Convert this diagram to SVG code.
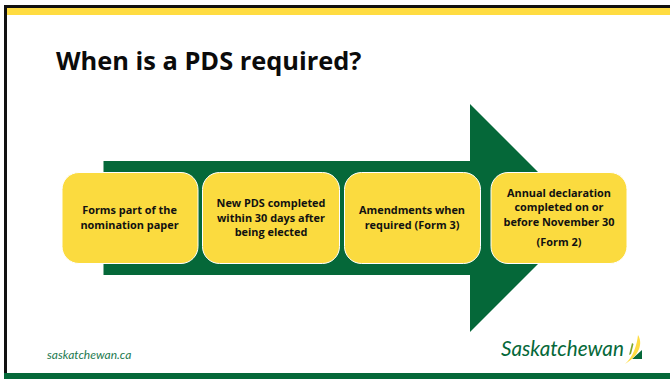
<svg xmlns="http://www.w3.org/2000/svg" width="670" height="379" viewBox="0 0 670 379">
<style>
.t{font-family:"Open Sans","Lato","Liberation Sans",sans-serif;font-weight:700;font-size:10.900px;fill:#111;text-anchor:middle}
.b{fill:#fbdb3f;stroke:#fff;stroke-width:1}
</style>
<rect width="670" height="379" fill="#fff"/>
<g id="frame">
<rect x="4" y="5" width="666" height="3.5" fill="#111"/>
<rect x="4" y="5" width="3" height="370" fill="#111"/>
<rect x="7" y="8" width="663" height="7" fill="#ffdc41"/>
<rect x="4" y="373" width="666" height="6" fill="#056839"/>
</g>
<text id="title" x="56" y="70" font-family="'Open Sans',Lato,sans-serif" font-weight="700" font-size="25.400" fill="#0b0b0b">When is a PDS required?</text>
<g id="connectors">
<path id="arrow" d="M103.500 161H470V104L584 218L470 332V275H103.500Z" fill="#056839"/>
</g>
<g id="node1"><rect class="b" x="62" y="172.500" width="136" height="91" rx="17"/>
<text class="t" x="129.500" y="214">Forms part of the</text><text class="t" x="129.500" y="229">nomination paper</text></g>
<g id="node2"><rect class="b" x="202.500" y="172.500" width="137" height="91" rx="17"/>
<text class="t" x="271" y="207">New PDS completed</text><text class="t" x="271" y="222">within 30 days after</text><text class="t" x="271" y="236">being elected</text></g>
<g id="node3"><rect class="b" x="344.500" y="172.500" width="136" height="91" rx="17"/>
<text class="t" x="412" y="214">Amendments when</text><text class="t" x="412" y="229">required (Form 3)</text></g>
<g id="node4"><rect class="b" x="491" y="172.500" width="136" height="91" rx="17"/>
<text class="t" x="559" y="197">Annual declaration</text><text class="t" x="559" y="211">completed on or</text><text class="t" x="559" y="226">before November 30</text><text class="t" x="559" y="246">(Form 2)</text></g>
<text id="url" x="47" y="359" font-family="Lato,'Open Sans',sans-serif" font-style="italic" font-size="12" fill="#1d7a4f">saskatchewan.ca</text>
<g id="logo">
<text x="501" y="356" font-family="Lato,'Open Sans',sans-serif" font-style="italic" font-size="20.700" fill="#056839">Saskatchewan</text>
<path d="M632 359L642 350V359Z" fill="#056839"/>
<path d="M625 364C633 357 637 345 638 335C643 343 640 355 625 364Z" fill="#ffdc41"/>
<path d="M629 355L632 343L633.500 344L631 354Z" fill="#7fa52a"/>
</g>
</svg>
